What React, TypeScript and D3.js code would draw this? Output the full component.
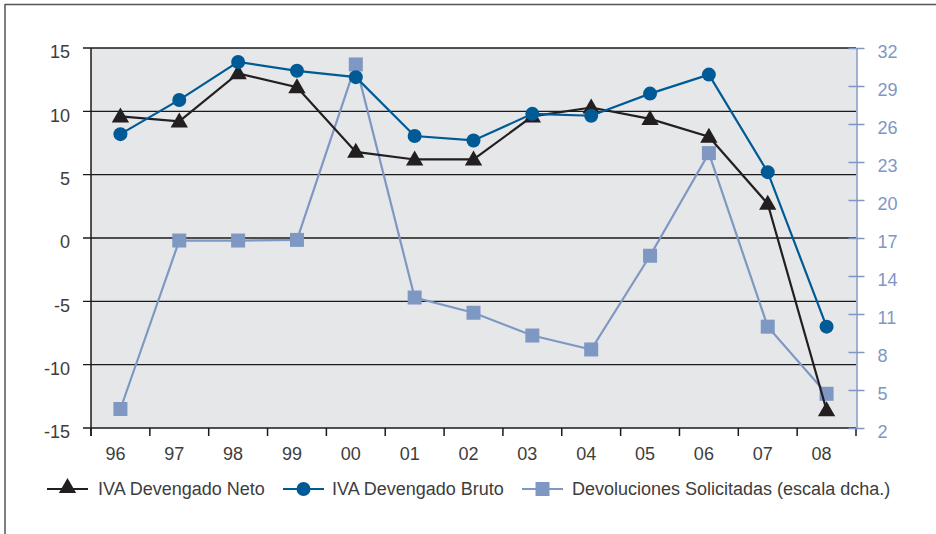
import React, { useEffect, useRef } from "react";
import * as d3 from "d3";

const years = ["96", "97", "98", "99", "00", "01", "02", "03", "04", "05", "06", "07", "08"];
const ivaNeto = [9.6, 9.2, 13.0, 11.9, 6.8, 6.2, 6.2, 9.6, 10.3, 9.4, 8.0, 2.7, -13.6];
const ivaBruto = [8.2, 10.9, 13.9, 13.2, 12.7, 8.05, 7.7, 9.8, 9.65, 11.4, 12.9, 5.2, -7.0];
const devoluciones = [3.5, 16.8, 16.8, 16.85, 30.7, 12.3, 11.1, 9.3, 8.2, 15.6, 23.7, 10.0, 4.7];
const leftTicks = [-15, -10, -5, 0, 5, 10, 15];
const rightTicks = [2, 5, 8, 11, 14, 17, 20, 23, 26, 29, 32];
const legendLabels = ["IVA Devengado Neto", "IVA Devengado Bruto", "Devoluciones Solicitadas (escala dcha.)"];

const colors = { neto: "#231f20", bruto: "#005a96", dev: "#7f97c3" };
const font = "'Liberation Sans', Arial, sans-serif";
const textColor = "#3d3d3d";
const fontSize = 18;

const App = () => {
  const chartRef = useRef<HTMLDivElement>(null);

  useEffect(() => {
    document.body.style.margin = "0";
    const width = 936;
    const height = 534;
    const plot = { left: 91, right: 856, top: 48, bottom: 428 };

    d3.select(chartRef.current).selectAll("*").remove();

    const svg = d3
      .select(chartRef.current)
      .append("svg")
      .attr("width", width)
      .attr("height", height)
      .style("display", "block")
      .style("font-family", font);

    svg.append("rect").attr("width", width).attr("height", height).attr("fill", "#fff");

    // outer frame (top and left edges)
    svg.append("line").attr("x1", 5).attr("x2", width).attr("y1", 4.5).attr("y2", 4.5)
      .attr("stroke", "#555").attr("stroke-width", 1.5);
    svg.append("line").attr("x1", 5).attr("x2", 5).attr("y1", 4).attr("y2", height)
      .attr("stroke", "#555").attr("stroke-width", 1.5);

    // scales
    const x = d3.scaleBand().domain(years).range([plot.left, plot.right]).padding(0);
    const cx = (d: string) => (x(d) as number) + x.bandwidth() / 2;
    const yL = d3.scaleLinear().domain([-15, 15]).range([plot.bottom, plot.top]);
    const yR = d3.scaleLinear().domain([2, 32]).range([plot.bottom, plot.top]);

    // plot background
    svg.append("rect")
      .attr("x", plot.left).attr("y", plot.top)
      .attr("width", plot.right - plot.left).attr("height", plot.bottom - plot.top)
      .attr("fill", "#e6e7e9");

    // gridlines
    svg.append("g").selectAll("line").data(leftTicks).join("line")
      .attr("x1", plot.left - 8).attr("x2", plot.right)
      .attr("y1", (d) => yL(d)).attr("y2", (d) => yL(d))
      .attr("stroke", "#1a1a1a").attr("stroke-width", 1.3);

    // left axis
    const leftAxis = svg.append("g").attr("transform", `translate(${plot.left},0)`)
      .call(d3.axisLeft(yL).tickValues(leftTicks).tickSize(0).tickPadding(21).tickFormat((d) => String(d)));
    leftAxis.select(".domain").remove();
    leftAxis.selectAll("text").attr("font-size", fontSize).attr("fill", textColor)
      .attr("font-family", font).attr("dy", "0.55em");
    svg.append("line").attr("x1", plot.left).attr("x2", plot.left)
      .attr("y1", plot.top).attr("y2", plot.bottom + 8)
      .attr("stroke", "#1a1a1a").attr("stroke-width", 1.5);

    // bottom axis
    const bottomAxis = svg.append("g").attr("transform", `translate(0,${plot.bottom})`)
      .call(d3.axisBottom(x).tickSize(0).tickPadding(19));
    bottomAxis.select(".domain").remove();
    bottomAxis.selectAll("text").attr("font-size", fontSize).attr("fill", textColor)
      .attr("font-family", font).attr("dx", -5);
    svg.append("g").selectAll("line").data(years.concat(["end"])).join("line")
      .attr("x1", (_, i) => plot.left + i * x.bandwidth())
      .attr("x2", (_, i) => plot.left + i * x.bandwidth())
      .attr("y1", plot.bottom).attr("y2", plot.bottom + 8)
      .attr("stroke", "#1a1a1a").attr("stroke-width", 1.5);

    // right axis
    const rightAxis = svg.append("g").attr("transform", `translate(${plot.right + 0.5},0)`)
      .call(d3.axisRight(yR).tickValues(rightTicks).tickSizeInner(8).tickSizeOuter(0).tickPadding(13));
    rightAxis.select(".domain").attr("stroke", colors.dev).attr("stroke-width", 1.5);
    rightAxis.selectAll(".tick line").attr("stroke", colors.dev).attr("stroke-width", 1.5)
      .attr("x1", -8);
    rightAxis.selectAll("text").attr("font-size", fontSize).attr("fill", colors.dev)
      .attr("font-family", font).attr("dy", "0.55em");

    const lineL = d3.line<number>().x((_, i) => cx(years[i])).y((d) => yL(d));
    const lineR = d3.line<number>().x((_, i) => cx(years[i])).y((d) => yR(d));
    const tri = d3.symbol().type(d3.symbolTriangle).size(130);

    // Devoluciones (right scale)
    svg.append("path").datum(devoluciones).attr("d", lineR)
      .attr("fill", "none").attr("stroke", colors.dev).attr("stroke-width", 2.2);
    svg.append("g").selectAll("rect").data(devoluciones).join("rect")
      .attr("x", (_, i) => cx(years[i]) - 7).attr("y", (d) => yR(d) - 7)
      .attr("width", 14).attr("height", 14).attr("fill", colors.dev);

    // IVA Devengado Neto
    svg.append("path").datum(ivaNeto).attr("d", lineL)
      .attr("fill", "none").attr("stroke", colors.neto).attr("stroke-width", 2.2);
    svg.append("g").selectAll("path").data(ivaNeto).join("path")
      .attr("d", tri)
      .attr("transform", (d, i) => `translate(${cx(years[i])},${yL(d) + 1})`)
      .attr("fill", colors.neto);

    // IVA Devengado Bruto
    svg.append("path").datum(ivaBruto).attr("d", lineL)
      .attr("fill", "none").attr("stroke", colors.bruto).attr("stroke-width", 2.2);
    svg.append("g").selectAll("circle").data(ivaBruto).join("circle")
      .attr("cx", (_, i) => cx(years[i])).attr("cy", (d) => yL(d))
      .attr("r", 7).attr("fill", colors.bruto);

    // legend
    const ly = 489;
    const items = [
      { x: 47, color: colors.neto, marker: "tri", textX: 98 },
      { x: 283, color: colors.bruto, marker: "circle", textX: 332 },
      { x: 522, color: colors.dev, marker: "rect", textX: 572 },
    ];
    const legend = svg.append("g");
    items.forEach((it, i) => {
      const g = legend.append("g");
      g.append("line").attr("x1", it.x).attr("x2", it.x + 41).attr("y1", ly).attr("y2", ly)
        .attr("stroke", it.color).attr("stroke-width", 2.2);
      const mx = it.x + 20.5;
      if (it.marker === "tri") {
        g.append("path").attr("d", tri).attr("transform", `translate(${mx},${ly - 1})`).attr("fill", it.color);
      } else if (it.marker === "circle") {
        g.append("circle").attr("cx", mx).attr("cy", ly).attr("r", 7).attr("fill", it.color);
      } else {
        g.append("rect").attr("x", mx - 7).attr("y", ly - 7).attr("width", 14).attr("height", 14).attr("fill", it.color);
      }
      g.append("text").attr("x", it.textX).attr("y", ly).attr("dy", "0.35em")
        .attr("font-size", fontSize).attr("fill", textColor).text(legendLabels[i]);
    });
  }, []);

  return <div ref={chartRef}></div>;
};

export default App;
